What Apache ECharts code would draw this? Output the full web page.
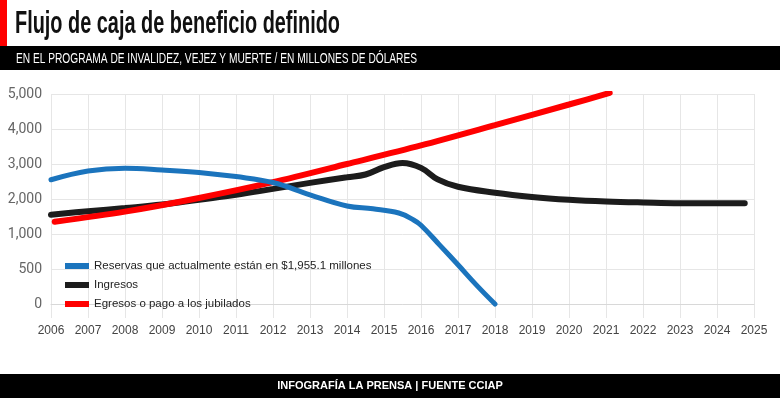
<!DOCTYPE html>
<html>
<head>
<meta charset="utf-8">
<title>Flujo de caja de beneficio definido</title>
<script src="https://cdn.jsdelivr.net/npm/echarts@6/dist/echarts.min.js"></script>
<style>
    html, body {margin: 0; padding: 0; background: #fff;}
    #chart {width: 780px; height: 398px;}
</style>
</head>
<body>
<div id="chart"></div>
<script>
var yTickLabels = ['0', '500', '1,000', '2,000', '3,000', '4,000', '5,000'];

var reservasYears  = [2006, 2007, 2008, 2009, 2010, 2011, 2012, 2013, 2014, 2014.7, 2015.4, 2015.8, 2016, 2016.5, 2017, 2017.5, 2018];
var reservasValues = [2550, 2800, 2880, 2830, 2760, 2640, 2470, 2120, 1800, 1720, 1600, 1400, 1250, 845, 560, 270, 0];

var ingresosYears  = [2006, 2007, 2008, 2009, 2010, 2011, 2012, 2013, 2014, 2014.5, 2015, 2015.5, 2016, 2016.45, 2017, 2018, 2019, 2020, 2021, 2022, 2023, 2024, 2024.75];
var ingresosValues = [1550, 1650, 1740, 1840, 1980, 2120, 2290, 2460, 2620, 2700, 2910, 3030, 2890, 2560, 2350, 2180, 2060, 1980, 1930, 1900, 1880, 1880, 1880];

var egresosYears  = [2006.1, 2008, 2010, 2012, 2014, 2016, 2018, 2020, 2021.1];
var egresosValues = [1350, 1640, 2030, 2480, 3000, 3530, 4110, 4700, 5030];

// el eje vertical no es lineal: 0, 500, 1,000 y luego de mil en mil
function axisPos(v) {
    return v <= 1000 ? v / 500 : v / 1000 + 1;
}

function toPoints(years, values) {
    return years.map(function (y, i) {
        return [y, axisPos(values[i])];
    });
}

// ancho del texto para comprimirlo como la tipografia condensada del original
var measureCtx = document.createElement('canvas').getContext('2d');
function fitScale(text, font, width) {
    measureCtx.font = font;
    return width / measureCtx.measureText(text).width;
}

var titleText = 'Flujo de caja de beneficio definido';
var titleFont = 'bold 32px "Liberation Sans", Arial, sans-serif';
var subText = 'EN EL PROGRAMA DE INVALIDEZ, VEJEZ Y MUERTE / EN MILLONES DE DÓLARES';
var subFont = '15px "Liberation Sans", Arial, sans-serif';
var sans = '"Liberation Sans", Arial, sans-serif';

var myChart = echarts.init(document.getElementById('chart'));

var option = {
    backgroundColor: '#fff',
    animation: false,
    graphic: [
        {type: 'rect', shape: {x: 0, y: 0, width: 7, height: 46}, style: {fill: '#ff0000'}},
        {
            type: 'text', x: 15, y: 24, scaleX: fitScale(titleText, titleFont, 325),
            style: {text: titleText, font: titleFont, fill: '#111', verticalAlign: 'middle'}
        },
        {type: 'rect', shape: {x: 0, y: 46, width: 780, height: 24}, style: {fill: '#000'}},
        {
            type: 'text', x: 16, y: 59, scaleX: fitScale(subText, subFont, 401),
            style: {text: subText, font: subFont, fill: '#fff', verticalAlign: 'middle'}
        },
        {type: 'rect', shape: {x: 0, y: 374, width: 780, height: 24}, style: {fill: '#000'}},
        {
            type: 'text', x: 390, y: 386,
            style: {
                text: 'INFOGRAFÍA LA PRENSA | FUENTE CCIAP',
                font: 'bold 11px ' + sans,
                fill: '#fff',
                align: 'center',
                verticalAlign: 'middle'
            }
        }
    ],
    legend: {
        orient: 'vertical',
        left: 65,
        top: 259,
        padding: 0,
        itemWidth: 24,
        itemHeight: 6,
        itemGap: 5,
        icon: 'rect',
        textStyle: {
            fontFamily: sans,
            fontSize: 11.5,
            lineHeight: 14,
            color: '#222'
        },
        data: [
            'Reservas que actualmente están en $1,955.1 millones',
            'Ingresos',
            'Egresos o pago a los jubilados'
        ]
    },
    grid: {
        left: 51,
        right: 26,
        top: 94,
        bottom: 80
    },
    xAxis: {
        type: 'value',
        min: 2006,
        max: 2025,
        interval: 1,
        axisLine: {show: true, lineStyle: {color: '#d8d8d8'}},
        axisTick: {show: false},
        splitLine: {show: true, lineStyle: {color: '#e6e6e6'}},
        axisLabel: {
            margin: 7,
            color: '#444',
            fontFamily: sans,
            fontSize: 12,
            formatter: function (v) { return String(v); }
        }
    },
    yAxis: {
        type: 'value',
        min: -0.4,
        max: 6,
        axisLine: {show: false},
        axisTick: {show: false, customValues: [0, 1, 2, 3, 4, 5, 6]},
        splitLine: {show: true, lineStyle: {color: '#e6e6e6'}},
        axisLabel: {
            customValues: [0, 1, 2, 3, 4, 5, 6],
            margin: 9,
            color: '#666',
            fontFamily: 'Roboto, sans-serif',
            fontSize: 14,
            formatter: function (v) { return yTickLabels[Math.round(v)]; }
        }
    },
    series: [
        {
            name: 'Ingresos',
            type: 'line',
            smooth: 0.4,
            showSymbol: false,
            itemStyle: {color: '#1c1c1c'},
            lineStyle: {color: '#1c1c1c', width: 6, cap: 'round'},
            data: toPoints(ingresosYears, ingresosValues)
        },
        {
            name: 'Egresos o pago a los jubilados',
            type: 'line',
            smooth: 0.3,
            showSymbol: false,
            itemStyle: {color: '#ff0000'},
            lineStyle: {color: '#ff0000', width: 6, cap: 'round'},
            data: toPoints(egresosYears, egresosValues)
        },
        {
            name: 'Reservas que actualmente están en $1,955.1 millones',
            type: 'line',
            smooth: 0.4,
            showSymbol: false,
            itemStyle: {color: '#1b74bd'},
            lineStyle: {color: '#1b74bd', width: 5, cap: 'round'},
            data: toPoints(reservasYears, reservasValues)
        }
    ]
};

myChart.setOption(option);
</script>
</body>
</html>
